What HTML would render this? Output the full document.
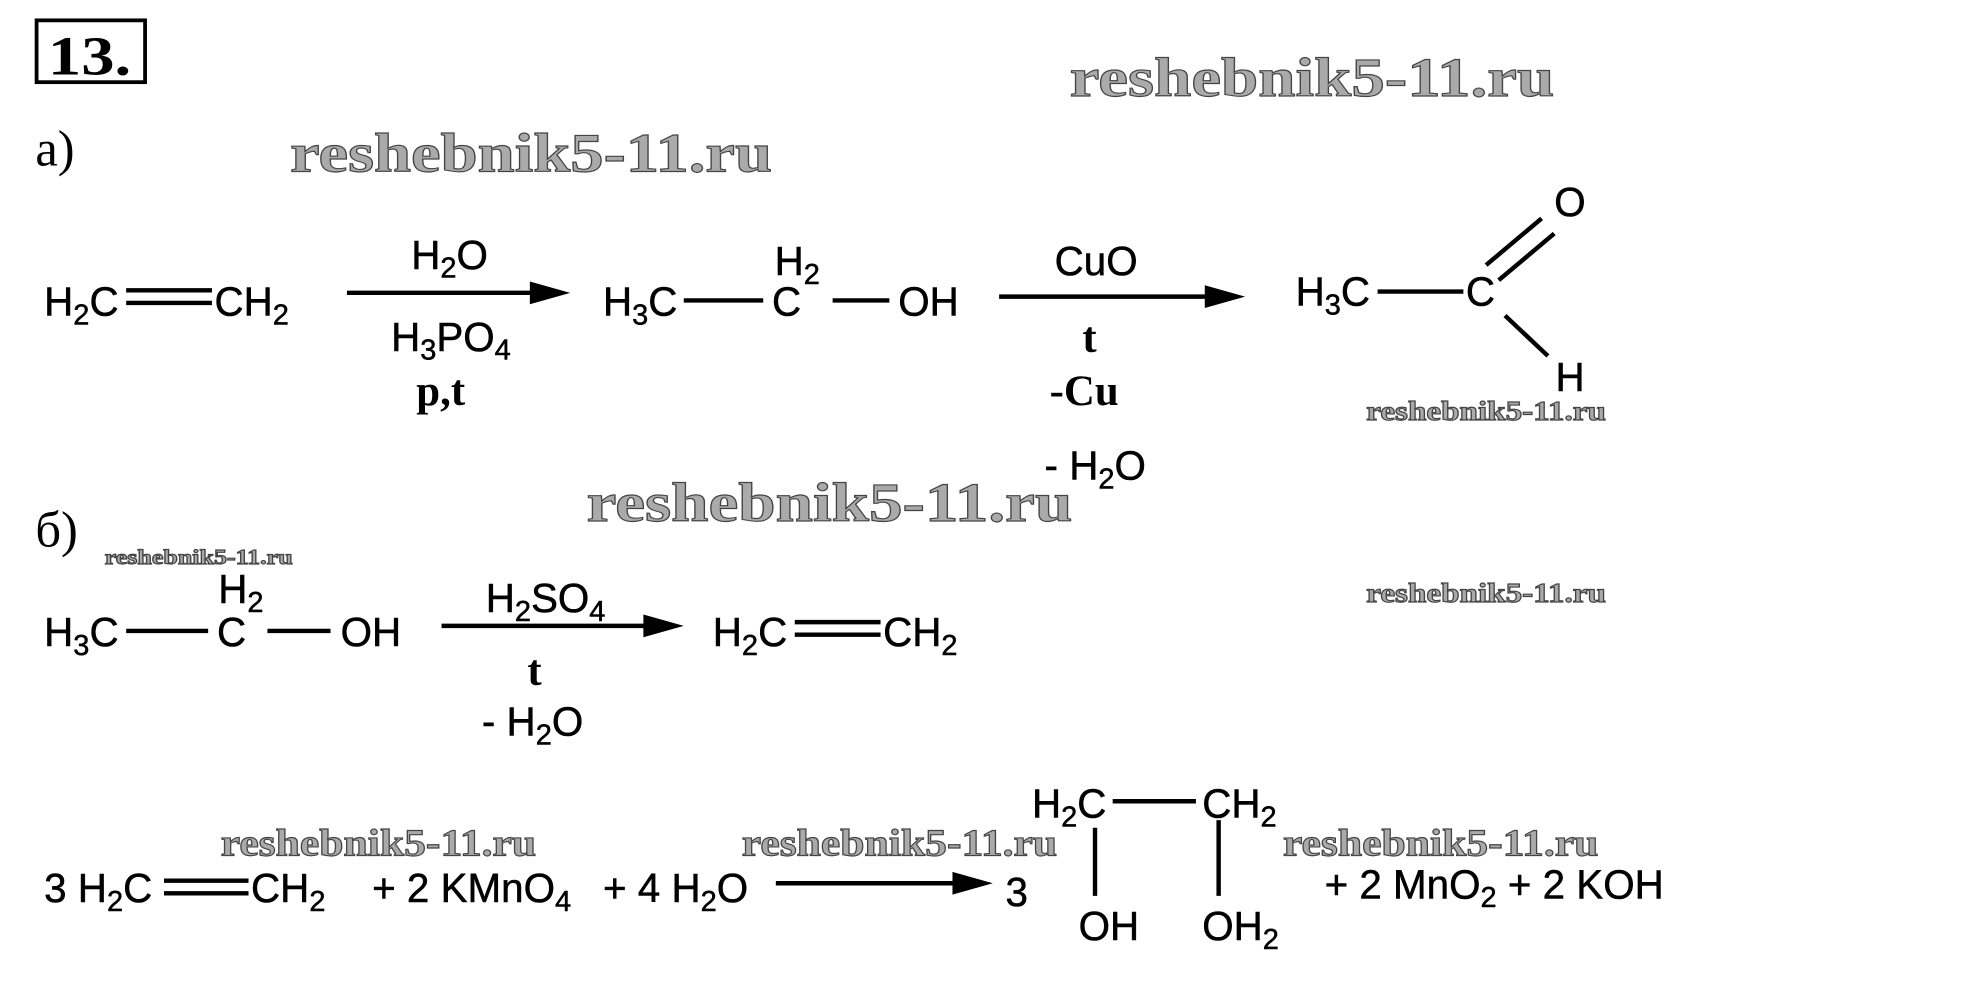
<!DOCTYPE html>
<html><head><meta charset="utf-8"><style>
html,body{margin:0;padding:0;background:#fff;width:1968px;height:1002px;overflow:hidden}
svg{display:block}
.s{font-family:"Liberation Sans",sans-serif;font-size:32px;fill:#000;stroke:#000;stroke-width:0.4}
.sub{font-size:23px}
.r{font-family:"Liberation Serif",serif;fill:#000}
.w{font-family:"Liberation Serif",serif;font-weight:bold;fill:#aaa;stroke:#444;stroke-width:0.9}
</style></head><body>
<svg width="1968" height="1002" viewBox="0 0 1560 794" xmlns="http://www.w3.org/2000/svg">
<rect width="1560" height="794" fill="#fff"/>
<g stroke="#000" stroke-width="3" fill="none">
<rect x="29" y="16" width="86" height="49"/>
</g>
<text x="38" y="59" class="r" font-size="44" font-weight="bold" textLength="66" lengthAdjust="spacingAndGlyphs">13.</text>
<text x="28" y="131" class="r" font-size="40">a)</text>
<text x="28" y="433" class="r" font-size="40">б)</text>

<!-- watermarks -->
<text x="848" y="76" class="w" font-size="44" textLength="384" lengthAdjust="spacingAndGlyphs">reshebnik5-11.ru</text>
<text x="230" y="136" class="w" font-size="44" textLength="382" lengthAdjust="spacingAndGlyphs">reshebnik5-11.ru</text>
<text x="465" y="413" class="w" font-size="44" textLength="385" lengthAdjust="spacingAndGlyphs">reshebnik5-11.ru</text>
<text x="1083" y="333" class="w" font-size="22" textLength="190" lengthAdjust="spacingAndGlyphs">reshebnik5-11.ru</text>
<text x="1083" y="477" class="w" font-size="22" textLength="190" lengthAdjust="spacingAndGlyphs">reshebnik5-11.ru</text>
<text x="83" y="447" class="w" font-size="17" textLength="149" lengthAdjust="spacingAndGlyphs">reshebnik5-11.ru</text>
<text x="175" y="678" class="w" font-size="30" textLength="250" lengthAdjust="spacingAndGlyphs">reshebnik5-11.ru</text>
<text x="588" y="678" class="w" font-size="30" textLength="250" lengthAdjust="spacingAndGlyphs">reshebnik5-11.ru</text>
<text x="1017" y="678" class="w" font-size="30" textLength="250" lengthAdjust="spacingAndGlyphs">reshebnik5-11.ru</text>

<g stroke="#000" stroke-width="3.5" fill="none">
<line x1="100" y1="230" x2="168" y2="230"/><line x1="100" y1="240" x2="168" y2="240"/>
<line x1="275" y1="232" x2="425" y2="232"/>
<line x1="542" y1="238" x2="605" y2="238"/><line x1="660" y1="238" x2="705" y2="238"/>
<line x1="792" y1="235" x2="960" y2="235"/>
<line x1="1092" y1="231" x2="1160" y2="231"/>
<line x1="1178" y1="210" x2="1222" y2="173"/><line x1="1188" y1="222" x2="1232" y2="185"/>
<line x1="1193" y1="250" x2="1227" y2="282"/>
<line x1="100" y1="500" x2="165" y2="500"/><line x1="212" y1="500" x2="262" y2="500"/>
<line x1="350" y1="496" x2="515" y2="496"/>
<line x1="630" y1="493" x2="698" y2="493"/><line x1="630" y1="503" x2="698" y2="503"/>
<line x1="130" y1="698" x2="197" y2="698"/><line x1="130" y1="708" x2="197" y2="708"/>
<line x1="615" y1="700" x2="760" y2="700"/>
<line x1="882" y1="635" x2="948" y2="635"/>
<line x1="868" y1="656" x2="868" y2="710"/><line x1="966" y1="650" x2="966" y2="710"/>
</g>
<g fill="#000">
<polygon points="420,223 452,232 420,241"/>
<polygon points="955,226 987,235 955,244"/>
<polygon points="510,487 542,496 510,505"/>
<polygon points="755,691 787,700 755,709"/>
</g>

<g class="s">
<text x="35" y="250">H<tspan class="sub" dy="7">2</tspan><tspan dy="-7">C</tspan></text>
<text x="170" y="250">CH<tspan class="sub" dy="7">2</tspan></text>
<text x="326" y="213">H<tspan class="sub" dy="7">2</tspan><tspan dy="-7">O</tspan></text>
<text x="310" y="278">H<tspan class="sub" dy="7">3</tspan><tspan dy="-7">PO</tspan><tspan class="sub" dy="7">4</tspan></text>
<text x="478" y="250">H<tspan class="sub" dy="7">3</tspan><tspan dy="-7">C</tspan></text>
<text x="612" y="250">C</text>
<text x="614" y="218">H<tspan class="sub" dy="7">2</tspan></text>
<text x="712" y="250">OH</text>
<text x="836" y="218">CuO</text>
<text x="828" y="380">- H<tspan class="sub" dy="7">2</tspan><tspan dy="-7">O</tspan></text>
<text x="1027" y="242">H<tspan class="sub" dy="7">3</tspan><tspan dy="-7">C</tspan></text>
<text x="1162" y="242">C</text>
<text x="1232" y="171">O</text>
<text x="1233" y="310">H</text>

<text x="35" y="512">H<tspan class="sub" dy="7">3</tspan><tspan dy="-7">C</tspan></text>
<text x="172" y="512">C</text>
<text x="173" y="478">H<tspan class="sub" dy="7">2</tspan></text>
<text x="270" y="512">OH</text>
<text x="385" y="485">H<tspan class="sub" dy="7">2</tspan><tspan dy="-7">SO</tspan><tspan class="sub" dy="7">4</tspan></text>
<text x="382" y="583">-  H<tspan class="sub" dy="7">2</tspan><tspan dy="-7">O</tspan></text>
<text x="565" y="512">H<tspan class="sub" dy="7">2</tspan><tspan dy="-7">C</tspan></text>
<text x="700" y="512">CH<tspan class="sub" dy="7">2</tspan></text>

<text x="35" y="715">3 H<tspan class="sub" dy="7">2</tspan><tspan dy="-7">C</tspan></text>
<text x="199" y="715">CH<tspan class="sub" dy="7">2</tspan></text>
<text x="295" y="715">+ 2 KMnO<tspan class="sub" dy="7">4</tspan></text>
<text x="478" y="715">+ 4 H<tspan class="sub" dy="7">2</tspan><tspan dy="-7">O</tspan></text>
<text x="797" y="718">3</text>
<text x="818" y="648">H<tspan class="sub" dy="7">2</tspan><tspan dy="-7">C</tspan></text>
<text x="953" y="648">CH<tspan class="sub" dy="7">2</tspan></text>
<text x="855" y="745">OH</text>
<text x="953" y="745">OH<tspan class="sub" dy="7">2</tspan></text>
<text x="1050" y="712">+ 2 MnO<tspan class="sub" dy="7">2</tspan><tspan dy="-7">  +  2 KOH</tspan></text>
</g>
<g class="r" font-size="34" font-weight="bold">
<text x="330" y="321">p,t</text>
<text x="858" y="279">t</text>
<text x="832" y="321">-Cu</text>
<text x="418" y="543">t</text>
</g>
</svg>
</body></html>
